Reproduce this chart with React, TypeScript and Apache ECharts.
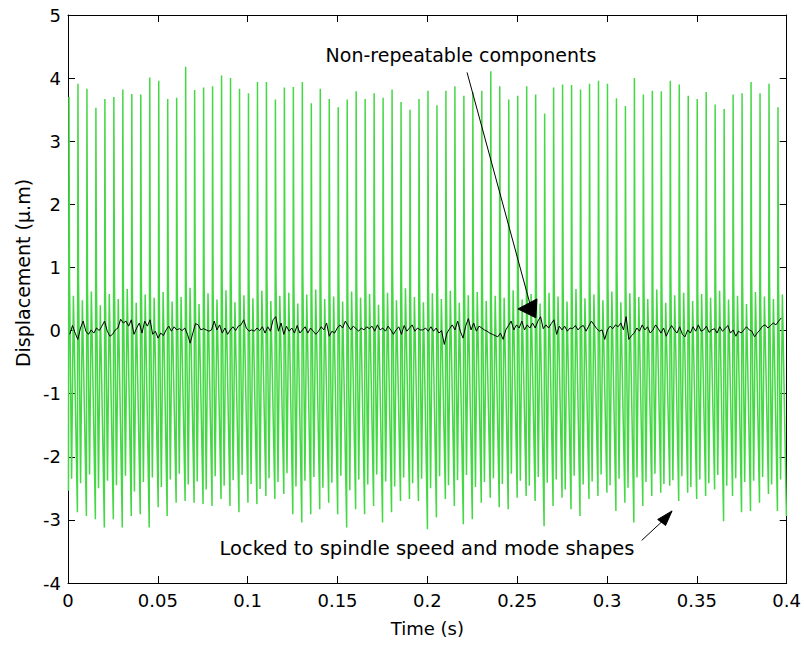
import { useEffect, useRef } from "react";
import * as echarts from "echarts";

// ---- axes ----
const X_MIN = 0;
const X_MAX = 0.4;
const X_STEP = 0.05;
const Y_MIN = -4;
const Y_MAX = 5;
const Y_STEP = 1;
const X_NAME = "Time (s)";
const Y_NAME = "Displacement (\u00b5.m)";

// ---- green signal: one cycle per spindle revolution (≈200 Hz) ----
const CYCLE_START = 0.00025; // s, time of first trough
const CYCLE_PERIOD = 0.004995; // s
// sample instants inside one cycle, as fraction of the period
const CYCLE_SAMPLE_PHASES = [0, 0.06, 0.12, 0.35, 0.55];

const peaks = [
  3.70, 3.91, 3.83, 3.53, 3.67, 3.70, 3.82, 3.75, 3.74, 4.01,
  3.96, 3.67, 3.69, 4.18, 3.81, 3.85, 3.87, 4.04, 4.00, 3.83,
  3.76, 3.94, 3.94, 3.66, 3.85, 3.86, 3.94, 3.60, 3.83, 3.67,
  3.54, 3.66, 3.79, 3.67, 3.76, 3.69, 3.82, 3.62, 3.50, 3.67,
  3.80, 3.57, 3.80, 3.87, 3.72, 3.78, 3.80, 4.11, 3.87, 3.66,
  3.72, 3.87, 3.74, 3.44, 3.85, 3.90, 3.89, 3.82, 3.91, 3.96,
  3.91, 3.68, 3.56, 4.00, 3.74, 3.80, 3.79, 3.96, 3.90, 3.72,
  3.67, 3.78, 3.58, 3.51, 3.74, 3.76, 3.94, 3.76, 3.91, 3.54,
];

const troughs = [
  -2.54, -2.88, -2.94, -2.99, -3.12, -2.99, -3.12, -2.94, -2.91, -3.12,
  -2.80, -2.94, -2.73, -2.70, -2.73, -2.75, -2.78, -2.67, -2.78, -2.88,
  -2.73, -2.75, -2.62, -2.67, -2.59, -2.91, -3.04, -2.91, -2.83, -2.73,
  -2.91, -3.12, -2.83, -2.91, -2.78, -3.04, -2.88, -2.70, -2.67, -2.70,
  -3.15, -2.96, -2.67, -2.78, -3.07, -2.99, -2.73, -2.65, -2.80, -2.83,
  -2.65, -2.62, -2.70, -3.10, -2.78, -2.65, -2.83, -2.94, -2.67, -2.62,
  -2.57, -2.86, -2.73, -3.04, -2.78, -2.62, -2.57, -2.46, -2.70, -2.57,
  -2.67, -2.62, -2.52, -3.02, -2.62, -2.88, -2.86, -2.73, -2.59, -2.86,
  -2.94,
];

const knees = [
  0.80, 0.85, 0.70, 0.78, 0.62, 0.92, 0.75, 0.66, 0.88, 0.72,
  0.60, 0.95, 0.82, 0.68, 0.90, 0.74, 0.64, 0.86, 0.98, 0.70,
  0.78, 0.62, 0.84, 0.93, 0.69, 0.76, 0.88, 0.58, 0.80, 0.72,
  0.91, 0.66, 0.75, 0.85, 0.63, 0.79, 0.94, 0.70, 0.61, 0.83,
  0.76, 0.89, 0.67, 0.74, 0.96, 0.71, 0.82, 0.60, 0.87, 0.73,
  0.79, 0.65, 0.92, 0.70, 0.84, 0.77, 0.62, 0.90, 0.68, 0.81,
  0.74, 0.95, 0.66, 0.78, 0.86, 0.61, 0.73, 0.88, 0.70, 0.82,
  0.64, 0.91, 0.76, 0.69, 0.85, 0.72, 0.97, 0.63, 0.80, 0.74,
];

const dips = [
  -2.35, -2.42, -2.28, -2.50, -2.38, -2.45, -2.30, -2.55, -2.40, -2.33,
  -2.48, -2.36, -2.27, -2.44, -2.39, -2.52, -2.31, -2.46, -2.37, -2.29,
  -2.43, -2.51, -2.34, -2.40, -2.26, -2.47, -2.38, -2.32, -2.49, -2.41,
  -2.30, -2.53, -2.36, -2.44, -2.28, -2.39, -2.47, -2.33, -2.42, -2.35,
  -2.50, -2.31, -2.45, -2.37, -2.29, -2.48, -2.40, -2.34, -2.43, -2.27,
  -2.38, -2.46, -2.32, -2.41, -2.36, -2.52, -2.30, -2.44, -2.39, -2.28,
  -2.45, -2.35, -2.49, -2.33, -2.40, -2.27, -2.43, -2.37, -2.31, -2.48,
  -2.36, -2.42, -2.29, -2.46, -2.34, -2.40, -2.38, -2.32, -2.44, -2.36,
];

const humps = [
  0.55, 0.48, 0.62, 0.40, 0.58, 0.50, 0.66, 0.44, 0.57, 0.52,
  0.61, 0.46, 0.53, 0.68, 0.42, 0.59, 0.49, 0.64, 0.45, 0.56,
  0.51, 0.63, 0.47, 0.55, 0.60, 0.43, 0.57, 0.65, 0.50, 0.54,
  0.46, 0.62, 0.52, 0.58, 0.41, 0.60, 0.48, 0.67, 0.53, 0.45,
  0.59, 0.50, 0.63, 0.44, 0.56, 0.61, 0.47, 0.55, 0.52, 0.64,
  0.49, 0.58, 0.43, 0.60, 0.54, 0.46, 0.66, 0.51, 0.57, 0.48,
  0.62, 0.45, 0.59, 0.53, 0.50, 0.65, 0.44, 0.56, 0.60, 0.47,
  0.58, 0.52, 0.63, 0.49, 0.55, 0.42, 0.61, 0.54, 0.50, 0.57,
];

// ---- black signal: non-repeatable component ----
const NR_START = 0.001;
const NR_END = 0.397;
const nonRepeatable = [
  -0.06, 0.08, -0.04, -0.14, 0.04, 0.15, -0.01, -0.06, 0.01, -0.04,
  0.04, 0.00, 0.07, 0.15, -0.01, -0.09, -0.06, 0.01, 0.04, 0.18,
  0.12, 0.15, 0.07, 0.17, -0.06, 0.04, 0.12, -0.04, 0.15, 0.07,
  0.17, -0.06, -0.01, -0.12, -0.04, -0.08, 0.01, 0.07, -0.01, 0.06,
  0.01, 0.03, 0.00, 0.04, -0.06, -0.20, -0.04, 0.11, 0.09, 0.01,
  0.03, 0.01, -0.01, 0.01, 0.15, 0.01, 0.09, -0.04, 0.04, -0.06,
  0.01, 0.06, 0.00, 0.07, 0.09, 0.17, 0.04, -0.01, 0.01, -0.01,
  0.04, 0.00, 0.06, -0.04, 0.06, -0.01, 0.17, 0.22, -0.01, 0.12,
  -0.06, 0.07, -0.01, 0.04, -0.04, 0.08, -0.04, 0.01, 0.06, -0.04,
  0.04, -0.01, -0.06, -0.01, 0.06, 0.01, 0.12, -0.09, -0.01, -0.04,
  0.04, 0.09, 0.04, 0.15, 0.08, 0.01, 0.07, 0.03, -0.01, 0.04,
  0.01, 0.06, 0.03, 0.07, -0.01, 0.09, 0.01, 0.04, -0.01, 0.07,
  0.01, -0.06, 0.01, 0.06, -0.06, 0.08, -0.01, 0.04, 0.09, -0.01,
  0.04, 0.01,
  0.01, 0.04, -0.01, 0.06, -0.01, 0.04, -0.04, 0.00, -0.22, -0.04,
  0.03, 0.09, 0.01, 0.15, -0.01, -0.12, 0.07, 0.19, 0.01, 0.12,
  -0.01, 0.07, 0.04, 0.01, -0.01, -0.04, -0.06, -0.08, -0.10, -0.04,
  -0.14, 0.01, 0.08, 0.15, 0.01, 0.09, 0.04, 0.15, 0.01, 0.09,
  0.04, 0.12, 0.04, 0.15, 0.22, 0.03, 0.09, 0.04, 0.11, 0.17,
  -0.06, 0.07, 0.01, 0.07, -0.01, 0.04, 0.03, 0.08, 0.01, 0.06,
  0.08, -0.01, 0.07, 0.15, 0.09, 0.03, -0.01, 0.01, -0.14, 0.01,
  0.07, 0.03, 0.09, 0.06, 0.12, 0.01, 0.22, -0.14, -0.08, -0.04,
  0.04, -0.01, 0.09, 0.01, 0.06, -0.04, 0.01, 0.09, 0.03, -0.04,
  0.04, -0.09, 0.01, 0.08, 0.01, -0.04, 0.06, -0.06, -0.10, 0.01,
  -0.04, 0.06, -0.01, 0.09, -0.01, 0.01, 0.07, -0.03, 0.01, 0.03,
  -0.04, 0.06, -0.01, 0.03, 0.08, -0.04, 0.01, -0.09, -0.01, -0.04,
  0.01, 0.06, 0.01, -0.01, -0.10, -0.04, 0.01, 0.07, 0.09, 0.04,
  0.08, 0.12, 0.09, 0.15, 0.20,
];

// ---- annotations (data coordinates) ----
const NOTE_TOP = "Non-repeatable components";
const NOTE_TOP_AT = [0.2187, 4.36];
const ARROW_TOP_LINE = [[0.2221, 4.09], [0.257, 0.436]];
const ARROW_TOP_HEAD = [[0.2504, 0.343], [0.261, 0.501], [0.2604, 0.201]];
const NOTE_BOTTOM = "Locked to spindle speed and mode shapes";
const NOTE_BOTTOM_AT = [0.1998, -3.45];
const ARROW_BOTTOM_LINE = [[0.3193, -3.325], [0.3331, -2.96]];
const ARROW_BOTTOM_HEAD = [[0.3362, -2.858], [0.3282, -2.993], [0.3326, -3.088]];

const FONT = "'DejaVu Sans', Arial, sans-serif";

function buildGreen(): number[][] {
  const pts: number[][] = [];
  for (let i = 0; i < peaks.length; i++) {
    const t = CYCLE_START + i * CYCLE_PERIOD;
    const vals = [troughs[i], peaks[i], knees[i], dips[i], humps[i]];
    for (let k = 0; k < vals.length; k++) {
      pts.push([t + CYCLE_SAMPLE_PHASES[k] * CYCLE_PERIOD, vals[k]]);
    }
  }
  pts.push([CYCLE_START + peaks.length * CYCLE_PERIOD, troughs[peaks.length]]);
  return pts;
}

function buildBlack(): number[][] {
  const n = nonRepeatable.length;
  const dt = (NR_END - NR_START) / (n - 1);
  return nonRepeatable.map((v, i) => [NR_START + i * dt, v]);
}

export default function App() {
  const ref = useRef<HTMLDivElement>(null);

  useEffect(() => {
    if (!ref.current) return;
    const chart = echarts.init(ref.current, null, { renderer: "svg" });

    const axisLine = { show: true, onZero: false, lineStyle: { color: "#000", width: 1 } };
    const tick = { show: true, inside: true, length: 7, lineStyle: { color: "#000", width: 1 } };
    const label = { color: "#000", fontSize: 18, fontFamily: FONT };

    chart.setOption({
      animation: false,
      backgroundColor: "#fff",
      grid: { left: 68, right: 16, top: 15, bottom: 63, containLabel: false },
      xAxis: [
        {
          type: "value", min: X_MIN, max: X_MAX, interval: X_STEP, position: "bottom",
          axisLine, axisTick: tick, splitLine: { show: false },
          axisLabel: { ...label, margin: 8 },
          name: X_NAME, nameLocation: "middle", nameGap: 36,
          nameTextStyle: { color: "#000", fontSize: 18, fontFamily: FONT },
        },
        {
          type: "value", min: X_MIN, max: X_MAX, interval: X_STEP, position: "top",
          axisLine, axisTick: tick, splitLine: { show: false }, axisLabel: { show: false },
        },
      ],
      yAxis: [
        {
          type: "value", min: Y_MIN, max: Y_MAX, interval: Y_STEP, position: "left",
          axisLine, axisTick: tick, splitLine: { show: false },
          axisLabel: { ...label, margin: 7 },
        },
        {
          type: "value", min: Y_MIN, max: Y_MAX, interval: Y_STEP, position: "right",
          axisLine, axisTick: tick, splitLine: { show: false }, axisLabel: { show: false },
        },
      ],
      series: [
        {
          type: "line", data: buildGreen(), showSymbol: false, symbol: "none",
          lineStyle: { color: "#45d845", width: 1.5 }, clip: true, z: 2,
        },
        {
          type: "line", data: buildBlack(), showSymbol: false, symbol: "none",
          lineStyle: { color: "#000", width: 1 }, clip: true, z: 3,
        },
      ],
    });

    const px = (p: number[]) =>
      chart.convertToPixel({ xAxisIndex: 0, yAxisIndex: 0 }, p) as number[];

    const t1 = px(NOTE_TOP_AT);
    const t2 = px(NOTE_BOTTOM_AT);
    const a1 = ARROW_TOP_LINE.map(px);
    const a2 = ARROW_BOTTOM_LINE.map(px);
    const yMid = px([0, (Y_MIN + Y_MAX) / 2]);

    chart.setOption({
      graphic: [
        {
          type: "text", x: t1[0], y: t1[1], z: 10,
          style: { text: NOTE_TOP, fill: "#000", fontSize: 19, fontFamily: FONT, align: "center", verticalAlign: "middle" },
        },
        {
          type: "text", x: t2[0], y: t2[1], z: 10,
          style: { text: NOTE_BOTTOM, fill: "#000", fontSize: 19.5, fontFamily: FONT, align: "center", verticalAlign: "middle" },
        },
        {
          type: "text", x: 23, y: yMid[1] - 26, rotation: Math.PI / 2, z: 10,
          style: { text: Y_NAME, fill: "#000", fontSize: 19, fontFamily: FONT, align: "center", verticalAlign: "middle" },
        },
        {
          type: "line", z: 10,
          shape: { x1: a1[0][0], y1: a1[0][1], x2: a1[1][0], y2: a1[1][1] },
          style: { stroke: "#000", lineWidth: 1 },
        },
        {
          type: "polygon", z: 10,
          shape: { points: ARROW_TOP_HEAD.map(px) },
          style: { fill: "#000", stroke: "#000", lineWidth: 1 },
        },
        {
          type: "line", z: 10,
          shape: { x1: a2[0][0], y1: a2[0][1], x2: a2[1][0], y2: a2[1][1] },
          style: { stroke: "#000", lineWidth: 1 },
        },
        {
          type: "polygon", z: 10,
          shape: { points: ARROW_BOTTOM_HEAD.map(px) },
          style: { fill: "#000", stroke: "#000", lineWidth: 1 },
        },
      ],
    });

    return () => chart.dispose();
  }, []);

  return (
    <div
      ref={ref}
      style={{ position: "absolute", left: 0, top: 0, width: 804, height: 646, background: "#fff" }}
    />
  );
}
